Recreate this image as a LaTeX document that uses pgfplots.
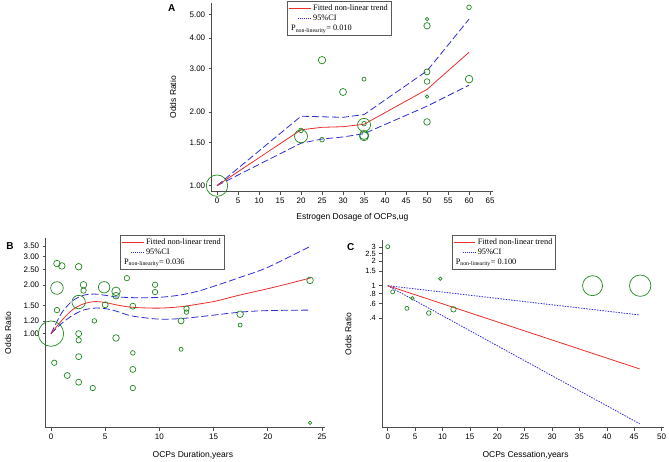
\documentclass[border=0pt]{standalone}
\usepackage{fontspec}
\setmainfont{Liberation Sans}
\newfontfamily\tnr{Liberation Serif}
\usepackage{pgfplots}
\pgfplotsset{compat=1.18}
\definecolor{cgreen}{RGB}{30,135,30}
\definecolor{cred}{RGB}{235,45,45}
\definecolor{cblue}{RGB}{45,45,215}
\pgfplotsset{
  myax/.style={scale only axis, axis x line*=bottom, axis y line*=left,
    axis line style={-, black!70, line width=0.6pt},
    tick style={black!70, line width=0.6pt}, tick align=outside,
    major tick length=3pt, clip=false,
    tick label style={font=\fontsize{8}{9}\selectfont},
    label style={font=\fontsize{8.5}{10}\selectfont},
    /pgf/number format/assume math mode=true,
    xlabel style={anchor=center},
    ylabel style={anchor=center, rotate=0},
    legend style={anchor=north west, draw=black!65, line width=0.9pt,
      font=\tnr\fontsize{8.3}{9}\selectfont, inner sep=1.5pt, row sep=-1pt,
      fill=white},
    legend cell align=left,
  },
  circ/.style={scatter, only marks, mark=o, scatter/use mapped color={draw=cgreen},
    mark options={line width=0.7pt},
    visualization depends on={\thisrow{r} \as \rad},
    scatter/@pre marker code/.append style={/tikz/mark size=\rad pt}},
  cidash/.style={cblue, line width=0.8pt, dash pattern=on 7pt off 3pt},
  legred/.style={legend image code/.code={\draw[cred, line width=0.8pt] (0cm,0cm) -- (0.75cm,0cm);}},
  legblue/.style={legend image code/.code={\draw[cblue, line width=0.8pt, dash pattern=on 1pt off 1pt] (0.3cm,0cm) -- (0.75cm,0cm);}},
  legnone/.style={legend image code/.code={}},
}
\begin{document}
\begin{tikzpicture}
\useasboundingbox (0,0) rectangle (669pt,461pt);
% Panel A
\begin{axis}[myax, ymode=log, at={(211.7pt,269.3pt)}, anchor=south west,
  width=281.3pt, height=188.7pt,
  xmin=-1.26, xmax=65.7, ymin=0.945, ymax=5.56,
  xtick={0,5,...,65},
  ytick={1,1.5,2,3,4,5}, yticklabels={1.00,1.50,2.00,3.00,4.00,5.00},
  xlabel={Estrogen Dosage of OCPs,ug}, ylabel={Odds Ratio},
  xlabel style={at={(axis description cs:0.5,0)}, yshift=-26pt},
  ylabel style={at={(axis description cs:-0.1376,0.5)}},
  legend style={at={(axis description cs:0.268,1.0106)}},
]
\addplot[circ, forget plot] table {
x y r
0 1.00 10.7
20 1.68 2.3
20 1.59 6.5
25 3.25 3.7
25 1.54 2.3
30 2.41 3.5
35 2.72 2
35 1.79 2.3
35 1.77 6.5
35 1.61 4.5
35 1.59 4.5
50 4.78 1.7
50 4.49 3.2
50 2.91 3
50 2.66 2.8
50 2.31 1.7
50 1.82 3.3
60 5.34 2.3
60 2.72 3.8
};
\addplot[cidash, forget plot] coordinates {(0,1) (20,1.92) (25,1.91) (30,1.90) (35,1.95) (50,2.94) (60,4.78)};
\addplot[cidash, forget plot] coordinates {(0,1) (20,1.49) (25,1.55) (30,1.58) (35,1.63) (50,2.11) (60,2.57)};
\addplot[cred, line width=0.8pt, forget plot] coordinates {(0,1) (20,1.69) (25,1.73) (30,1.74) (35,1.78) (50,2.47) (60,3.50)};
\addlegendimage{legred}
\addlegendentry{Fitted non-linear trend}
\addlegendimage{legblue}
\addlegendentry{95\%CI}
\addlegendimage{legnone}
\addlegendentry{\hspace*{-22pt}P\textsubscript{non-linearity}= 0.010}
\node[font=\bfseries\fontsize{10}{11}\selectfont] at (rel axis cs:-0.142,0.972) {A};
\end{axis}
% Panel B
\begin{axis}[myax, ymode=log, at={(45.7pt,33.3pt)}, anchor=south west,
  width=279.3pt, height=189.7pt,
  xmin=-0.49, xmax=25.28, ymin=0.261, ymax=3.92,
  xtick={0,5,...,25},
  ytick={1,1.2,1.5,2,2.5,3,3.5}, yticklabels={1.00,1.20,1.50,2.00,2.50,3.00,3.50},
  xlabel={OCPs Duration,years}, ylabel={Odds Ratio},
  xlabel style={at={(axis description cs:0.527,0)}, yshift=-27.3pt},
  ylabel style={at={(axis description cs:-0.135,0.5)}},
  legend style={at={(axis description cs:0.266,1.016)}},
]
\addplot[circ, forget plot] table {
x y r
0 1.00 12.7
0.55 2.72 3.3
1.0 2.63 3.3
0.55 1.92 6.3
0.55 1.40 2.7
0.3 0.66 2.7
1.5 0.55 3
2.55 2.60 3.3
2.55 1.57 6.7
2.55 1.00 3
2.55 0.91 2.7
2.55 0.72 3
2.55 0.50 3
3.0 2.01 3.3
3.0 1.85 2.7
3.85 0.46 2.7
4.0 1.20 2.3
4.9 1.94 5.7
5.0 1.51 3
6.0 1.83 4.3
6.0 1.72 3.3
6.0 0.94 3.3
7.0 2.21 2.7
7.55 1.48 3
7.55 0.76 2.3
7.55 0.60 3
7.55 0.46 2.7
9.6 2.01 2.7
9.6 1.81 2.7
12.0 1.20 3
12.0 0.80 2
12.5 1.43 2.7
12.5 1.36 2.3
17.45 1.32 3.3
17.45 1.13 2
23.9 2.14 3.3
23.9 0.28 1.7
};
\addplot[cidash, smooth, forget plot] coordinates {(0,1.0) (1,1.35) (2,1.60) (3,1.73) (4,1.76) (5,1.73) (6,1.69) (8,1.67) (10,1.68) (12,1.74) (14,1.87) (17.5,2.24) (20,2.58) (24,3.50)};
\addplot[cidash, smooth, forget plot] coordinates {(0,1) (1,1.16) (2,1.30) (3,1.40) (4,1.44) (5,1.43) (6,1.38) (7,1.31) (8,1.27) (10,1.23) (12,1.24) (14,1.28) (17.5,1.36) (20,1.39) (24,1.40)};
\addplot[cred, line width=0.8pt, smooth, forget plot] coordinates {(0,1.00) (1,1.21) (2,1.41) (3,1.53) (4,1.58) (5,1.56) (6,1.51) (7,1.47) (8,1.45) (10,1.44) (12,1.47) (14,1.54) (15,1.58) (17.5,1.74) (20,1.90) (22,2.05) (24,2.22)};
\addlegendimage{legred}
\addlegendentry{Fitted non-linear trend}
\addlegendimage{legblue}
\addlegendentry{95\%CI}
\addlegendimage{legnone}
\addlegendentry{\hspace*{-22pt}P\textsubscript{non-linearity}= 0.036}
\node[font=\bfseries\fontsize{10}{11}\selectfont] at (rel axis cs:-0.128,0.958) {B};
\end{axis}
% Panel C
\begin{axis}[myax, ymode=log, at={(382.3pt,33.3pt)}, anchor=south west,
  width=282pt, height=187.7pt,
  xmin=-0.99, xmax=50.5, ymin=0.0177, ymax=3.66,
  xtick={0,5,...,50},
  ytick={0.4,0.6,0.8,1,1.5,2,2.5,3}, yticklabels={.4,.6,.8,1,1.5,2,2.5,3},
  yticklabel style={font=\fontsize{7.5}{8}\selectfont},
  xlabel={OCPs Cessation,years}, ylabel={Odds Ratio},
  xlabel style={at={(axis description cs:0.508,0)}, yshift=-27.3pt},
  ylabel style={at={(axis description cs:-0.1206,0.5)}},
  legend style={at={(axis description cs:0.246,1.027)}},
]
\addplot[circ, forget plot] table {
x y r
0 3.03 2
0.9 0.84 2
3.5 0.525 2
4.5 0.70 1.7
7.5 0.46 2.3
9.6 1.22 1.7
12 0.51 2.7
37.4 1.0 10
46.1 1.0 10.7
};
\addplot[cblue, line width=0.8pt, dash pattern=on 1.5pt off 1.2pt, forget plot] coordinates {(0,1) (46,0.435)};
\addplot[cblue, line width=0.8pt, dash pattern=on 1.5pt off 1.2pt, forget plot] coordinates {(0,1) (46,0.0198)};
\addplot[cred, line width=0.8pt, forget plot] coordinates {(0,1) (46,0.094)};
\addlegendimage{legred}
\addlegendentry{Fitted non-linear trend}
\addlegendimage{legblue}
\addlegendentry{95\%CI}
\addlegendimage{legnone}
\addlegendentry{\hspace*{-22pt}P\textsubscript{non-linearity}= 0.100}
\node[font=\bfseries\fontsize{10}{11}\selectfont] at (rel axis cs:-0.112,0.964) {C};
\end{axis}
\end{tikzpicture}
\end{document}
